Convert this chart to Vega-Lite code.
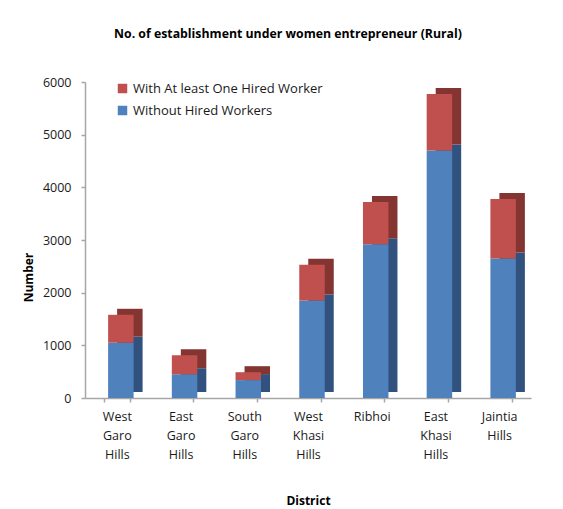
{
  "$schema": "https://vega.github.io/schema/vega-lite/v6.json",
  "autosize": {"type": "none"},
  "width": 446,
  "height": 316,
  "padding": {"left": 85, "top": 82, "right": 32, "bottom": 111},
  "background": "white",
  "config": {
    "font": "Open Sans",
    "view": {"stroke": null},
    "axis": {"labelFont": "Open Sans", "titleFont": "Open Sans", "labelColor": "#1a1a1a", "titleColor": "#000000"}
  },
  "title": {
    "text": "No. of establishment under women entrepreneur (Rural)",
    "fontSize": 12.3,
    "fontWeight": "bold",
    "font": "Open Sans",
    "anchor": "middle",
    "offset": 36,
    "dx": -20,
    "color": "#000000"
  },
  "data": {
    "values": [
      {"district": "West Garo Hills", "series": "Without Hired Workers", "value": 1050},
      {"district": "West Garo Hills", "series": "With At least One  Hired Worker", "value": 530},
      {"district": "East Garo Hills", "series": "Without Hired Workers", "value": 450},
      {"district": "East Garo Hills", "series": "With At least One  Hired Worker", "value": 360},
      {"district": "South Garo Hills", "series": "Without Hired Workers", "value": 340},
      {"district": "South Garo Hills", "series": "With At least One  Hired Worker", "value": 150},
      {"district": "West Khasi Hills", "series": "Without Hired Workers", "value": 1850},
      {"district": "West Khasi Hills", "series": "With At least One  Hired Worker", "value": 680},
      {"district": "Ribhoi", "series": "Without Hired Workers", "value": 2920},
      {"district": "Ribhoi", "series": "With At least One  Hired Worker", "value": 800},
      {"district": "East Khasi Hills", "series": "Without Hired Workers", "value": 4700},
      {"district": "East Khasi Hills", "series": "With At least One  Hired Worker", "value": 1070},
      {"district": "Jaintia Hills", "series": "Without Hired Workers", "value": 2650},
      {"district": "Jaintia Hills", "series": "With At least One  Hired Worker", "value": 1130}
    ]
  },
  "encoding": {
    "x": {
      "field": "district",
      "type": "nominal",
      "sort": null,
      "scale": {"paddingInner": 0.6, "paddingOuter": 0.3},
      "axis": {
        "title": "District",
        "titleFontSize": 12,
        "titleFontWeight": "bold",
        "titleY": 102,
        "titleBaseline": "middle",
        "labelAngle": 0,
        "labelFontSize": 12.5,
        "labelLineHeight": 19,
        "labelPadding": 8,
        "labelExpr": "split(datum.label, ' ')",
        "tickBand": "extent",
        "tickSize": 4,
        "domainColor": "#a6a6a6",
        "tickColor": "#a6a6a6",
        "domainWidth": 1.5,
        "tickWidth": 1.5
      }
    },
    "y": {
      "field": "value",
      "type": "quantitative",
      "stack": "zero",
      "scale": {"domain": [0, 6000], "nice": false},
      "axis": {
        "title": "Number",
        "titleFontSize": 12,
        "titleFontWeight": "bold",
        "titleX": -57,
        "titleY": 195,
        "titleAngle": -90,
        "titleBaseline": "middle",
        "titleAlign": "center",
        "format": "d",
        "values": [0, 1000, 2000, 3000, 4000, 5000, 6000],
        "labelFontSize": 12.5,
        "labelPadding": 10,
        "tickSize": 4,
        "grid": false,
        "domainColor": "#a6a6a6",
        "tickColor": "#a6a6a6",
        "domainWidth": 1.5,
        "tickWidth": 1.5
      }
    },
    "order": {"field": "series", "sort": "descending"}
  },
  "layer": [
    {
      "mark": {"type": "bar", "xOffset": 13, "yOffset": -6},
      "encoding": {
        "color": {
          "field": "series",
          "type": "nominal",
          "scale": {
            "domain": ["With At least One  Hired Worker", "Without Hired Workers"],
            "range": ["#843431", "#31517f"]
          },
          "legend": null
        }
      }
    },
    {
      "mark": {"type": "bar", "xOffset": 4},
      "encoding": {
        "color": {
          "field": "series",
          "type": "nominal",
          "scale": {
            "domain": ["With At least One  Hired Worker", "Without Hired Workers"],
            "range": ["#c0504d", "#4f81bd"]
          },
          "legend": {
            "title": null,
            "orient": "none",
            "legendX": 31,
            "legendY": 0,
            "symbolType": "square",
            "symbolSize": 90,
            "symbolStrokeWidth": 0,
            "labelFontSize": 13,
            "labelFont": "Open Sans",
            "labelColor": "#1a1a1a",
            "labelLimit": 0,
            "rowPadding": 8,
            "labelOffset": 4
          }
        }
      }
    }
  ],
  "resolve": {"scale": {"color": "independent"}}
}
